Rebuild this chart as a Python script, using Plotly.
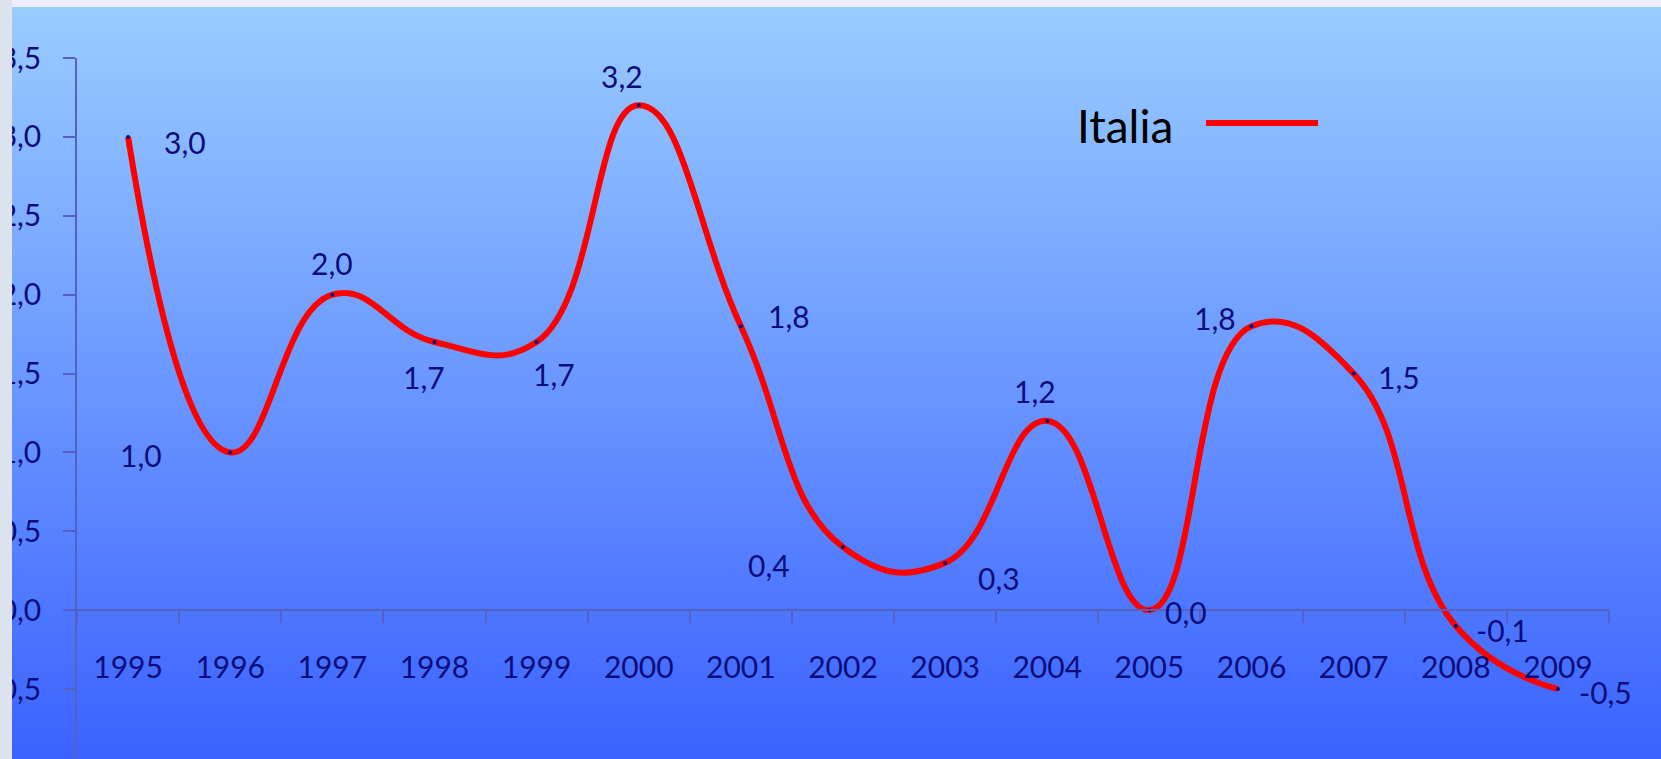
import base64
import plotly.graph_objects as go

# ---- data ----
years = ["1995", "1996", "1997", "1998", "1999", "2000", "2001", "2002",
         "2003", "2004", "2005", "2006", "2007", "2008", "2009"]
italia = [3.0, 1.0, 2.0, 1.7, 1.7, 3.2, 1.8, 0.4, 0.3, 1.2, 0.0, 1.8, 1.5, -0.1, -0.5]
y_tick_vals = [-0.5, 0.0, 0.5, 1.0, 1.5, 2.0, 2.5, 3.0, 3.5]
y_tick_text = ["-0,5", "0,0", "0,5", "1,0", "1,5", "2,0", "2,5", "3,0", "3,5"]
series_name = "Italia"

# label offsets in screen px (dx right, dy down) - layout only
label_offsets = [(57, 5), (-89, 3), (0, -32), (-10, 35), (17, 32), (-17, -29),
                 (48, -10), (-74, 18), (54, 15), (-12, -30), (37, 2), (-37, -8),
                 (45, 3), (47, 4), (48, 3)]

W, H = 1661, 759
ML, MR, MT, MB = 77, 52, 58, 0
PW, PH = W - ML - MR, H - MT - MB

FONT = "Lato"
NAVY = "#0c0c7a"
AXIS = "#5560c0"


def px_x(p):
    return (p - ML) / PW


def px_y(p):
    return (H - MB - p) / PH


svg = ('<svg xmlns="http://www.w3.org/2000/svg" width="100" height="100" preserveAspectRatio="none">'
       '<defs><linearGradient id="g" x1="0" y1="0" x2="0" y2="1">'
       '<stop offset="0" stop-color="#9accff"/><stop offset="1" stop-color="#3a62ff"/>'
       '</linearGradient></defs><rect width="100" height="100" fill="url(#g)"/></svg>')
bg_uri = "data:image/svg+xml;base64," + base64.b64encode(svg.encode()).decode()

fig = go.Figure()
fig.add_trace(go.Scatter(
    x=years, y=italia, mode="lines+markers", name=series_name,
    line=dict(color="#ff0000", width=6, shape="spline", smoothing=1.3),
    marker=dict(color="#0a0a70", size=4),
    showlegend=False, cliponaxis=False, hoverinfo="x+y",
))

annotations = []
for i, (v, (dx, dy)) in enumerate(zip(italia, label_offsets)):
    annotations.append(dict(
        x=i, y=v, xref="x", yref="y", text=f"{v:.1f}".replace(".", ","),
        showarrow=False, xshift=dx, yshift=-dy,
        font=dict(family=FONT, size=30, color=NAVY),
    ))

# legend text
annotations.append(dict(
    x=px_x(1075), y=px_y(125), xref="paper", yref="paper", xanchor="left", yanchor="middle",
    text=series_name, showarrow=False, font=dict(family=FONT, size=46, color="#000000"),
))

ymin = -0.943
fig.update_layout(
    width=W, height=H,
    margin=dict(l=ML, r=MR, t=MT, b=MB, pad=0, autoexpand=False),
    paper_bgcolor="#eeeeff",
    plot_bgcolor="rgba(0,0,0,0)",
    font=dict(family=FONT, size=30, color=NAVY),
    images=[dict(source=bg_uri, xref="paper", yref="paper",
                 x=px_x(12), y=px_y(7), sizex=(W - 12) / PW, sizey=(H - 7) / PH,
                 xanchor="left", yanchor="top", sizing="stretch", layer="below")],
    shapes=[
        dict(type="rect", xref="paper", yref="paper", x0=px_x(0), x1=px_x(12),
             y0=px_y(H), y1=px_y(0), fillcolor="#dde3ee", line=dict(width=0), layer="above"),
        dict(type="line", xref="paper", yref="paper", x0=px_x(1206), x1=px_x(1318),
             y0=px_y(123), y1=px_y(123), line=dict(color="#ff0000", width=6), layer="above"),
    ],
    annotations=annotations,
    xaxis=dict(
        type="category", range=[-0.5, 14.5], anchor="free",
        position=(0 - ymin) / (3.5 - ymin), automargin=False,
        showline=True, linecolor=AXIS, linewidth=1.5,
        ticks="outside", ticklen=12, tickcolor=AXIS, tickwidth=1.5,
        tickson="boundaries", showgrid=False, zeroline=False,
        tickfont=dict(family=FONT, size=30, color=NAVY),
        ticklabelstandoff=31,
    ),
    yaxis=dict(
        range=[ymin, 3.5001], automargin=False,
        tickvals=y_tick_vals, ticktext=y_tick_text,
        showline=True, linecolor=AXIS, linewidth=1.5,
        ticks="outside", ticklen=12, tickcolor=AXIS, tickwidth=1.5,
        showgrid=False, zeroline=False,
        tickfont=dict(family=FONT, size=30, color=NAVY),
        ticklabelstandoff=16,
    ),
)

fig.write_html(
    "out.html",
    config={"displayModeBar": False},
    post_script="document.body.style.margin='0';document.body.style.overflow='hidden';",
)
